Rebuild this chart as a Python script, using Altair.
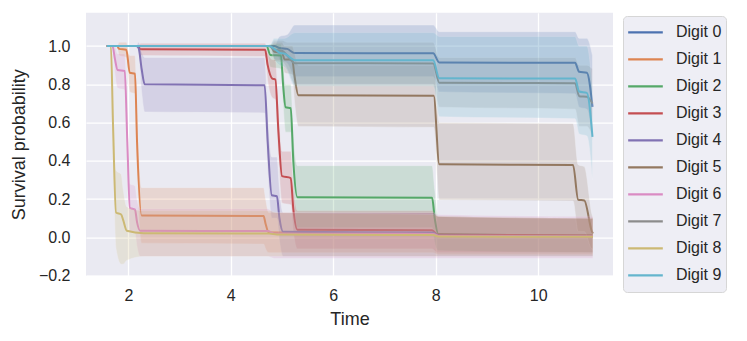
import altair as alt
import pandas as pd

digits = ["Digit 0", "Digit 1", "Digit 2", "Digit 3", "Digit 4",
          "Digit 5", "Digit 6", "Digit 7", "Digit 8", "Digit 9"]
colors = ["#4C72B0", "#DD8452", "#55A868", "#C44E52", "#8172B3",
          "#937860", "#DA8BC3", "#8C8C8C", "#CCB974", "#64B5CD"]

# Digit 0
t0 = [1.58, 4.85, 4.95, 5.10, 5.25, 7.95, 8.07, 10.72, 10.80, 10.95, 11.06]
v0 = [1.0, 1.0, 0.99, 0.985, 0.963, 0.962, 0.914, 0.912, 0.865, 0.86, 0.682]
lo0 = [1.0, 1.0, 0.93, 0.91, 0.84, 0.84, 0.76, 0.75, 0.68, 0.67, 0.50]
hi0 = [1.0, 1.0, 1.05, 1.06, 1.11, 1.11, 1.075, 1.075, 1.04, 1.04, 0.95]
# Digit 1
t1 = [1.58, 1.78, 1.82, 1.96, 2.03, 2.13, 2.17, 2.26, 4.64, 4.68, 4.74, 7.95, 8.05, 11.07]
v1 = [1.0, 1.0, 0.985, 0.98, 0.86, 0.855, 0.5, 0.115, 0.112, 0.07, 0.025, 0.022, 0.01, 0.005]
lo1 = [1.0, 1.0, 0.95, 0.94, 0.76, 0.75, 0.35, -0.03, -0.035, -0.06, -0.08, -0.08, -0.09, -0.09]
hi1 = [1.0, 1.0, 1.02, 1.02, 0.95, 0.95, 0.65, 0.26, 0.26, 0.2, 0.13, 0.13, 0.11, 0.1]
# Digit 2
t2 = [1.58, 4.70, 4.77, 4.98, 5.02, 5.07, 5.17, 5.22, 5.30, 7.93, 7.98, 8.05, 11.07]
v2 = [1.0, 1.0, 0.953, 0.95, 0.8, 0.68, 0.675, 0.4, 0.21, 0.207, 0.1, 0.018, 0.01]
lo2 = [1.0, 1.0, 0.89, 0.88, 0.7, 0.55, 0.55, 0.25, 0.05, 0.05, -0.03, -0.07, -0.08]
hi2 = [1.0, 1.0, 1.01, 1.01, 0.9, 0.8, 0.8, 0.55, 0.375, 0.375, 0.25, 0.11, 0.1]
# Digit 3
t3 = [1.58, 2.18, 2.24, 4.67, 4.72, 4.81, 4.87, 4.93, 5.00, 5.17, 5.22, 5.30, 7.93, 8.03, 11.07]
v3 = [1.0, 1.0, 0.983, 0.98, 0.9, 0.83, 0.825, 0.55, 0.32, 0.31, 0.15, 0.04, 0.038, 0.015, 0.01]
lo3 = [1.0, 1.0, 0.95, 0.945, 0.82, 0.73, 0.72, 0.42, 0.18, 0.17, 0.03, -0.06, -0.06, -0.08, -0.08]
hi3 = [1.0, 1.0, 1.015, 1.015, 0.97, 0.93, 0.93, 0.68, 0.45, 0.45, 0.28, 0.14, 0.14, 0.11, 0.1]
# Digit 4
t4 = [1.58, 2.15, 2.20, 2.26, 2.32, 4.66, 4.72, 4.80, 4.90, 4.95, 5.02, 7.95, 8.05, 11.07]
v4 = [1.0, 1.0, 0.99, 0.88, 0.8, 0.795, 0.5, 0.22, 0.215, 0.1, 0.03, 0.025, 0.01, 0.005]
lo4 = [1.0, 1.0, 0.96, 0.76, 0.655, 0.65, 0.35, 0.1, 0.1, -0.02, -0.1, -0.1, -0.1, -0.1]
hi4 = [1.0, 1.0, 1.02, 0.97, 0.94, 0.94, 0.65, 0.42, 0.42, 0.25, 0.13, 0.13, 0.11, 0.1]
# Digit 5
t5 = [1.58, 4.78, 4.85, 5.00, 5.05, 5.20, 5.24, 5.32, 7.96, 8.07, 10.68, 10.78, 10.90, 11.05, 11.07]
v5 = [1.0, 1.0, 0.97, 0.965, 0.93, 0.928, 0.85, 0.743, 0.74, 0.382, 0.378, 0.197, 0.193, 0.03, 0.02]
lo5 = [1.0, 1.0, 0.92, 0.915, 0.86, 0.85, 0.72, 0.58, 0.575, 0.195, 0.19, 0.03, 0.03, -0.06, -0.06]
hi5 = [1.0, 1.0, 1.02, 1.02, 1.0, 1.0, 0.97, 0.9, 0.9, 0.6, 0.595, 0.38, 0.37, 0.12, 0.1]
# Digit 6
t6 = [1.58, 1.69, 1.74, 1.79, 1.93, 1.98, 2.03, 2.13, 2.17, 2.23, 4.72, 4.85, 7.95, 8.05, 11.07]
v6 = [1.0, 1.0, 0.93, 0.875, 0.87, 0.5, 0.155, 0.145, 0.08, 0.035, 0.033, 0.02, 0.018, 0.008, 0.005]
lo6 = [1.0, 1.0, 0.85, 0.78, 0.77, 0.35, 0.03, 0.02, -0.05, -0.1, -0.1, -0.11, -0.11, -0.11, -0.11]
hi6 = [1.0, 1.0, 1.0, 0.96, 0.96, 0.65, 0.28, 0.27, 0.2, 0.15, 0.15, 0.13, 0.13, 0.12, 0.11]
# Digit 7
t7 = [1.58, 4.75, 4.85, 5.00, 5.10, 5.25, 7.95, 8.07, 10.72, 10.80, 10.95, 11.06]
v7 = [1.0, 1.0, 0.98, 0.975, 0.95, 0.91, 0.909, 0.808, 0.806, 0.738, 0.735, 0.70]
lo7 = [1.0, 1.0, 0.93, 0.92, 0.88, 0.8, 0.8, 0.68, 0.67, 0.58, 0.58, 0.52]
hi7 = [1.0, 1.0, 1.03, 1.03, 1.02, 1.02, 1.02, 0.94, 0.94, 0.9, 0.9, 0.88]
# Digit 8
t8 = [1.58, 1.66, 1.70, 1.76, 1.86, 1.90, 1.97, 2.30, 4.75, 4.90, 7.95, 8.05, 11.07]
v8 = [1.0, 1.0, 0.6, 0.13, 0.12, 0.09, 0.035, 0.022, 0.02, 0.015, 0.012, 0.005, 0.003]
lo8 = [1.0, 1.0, 0.45, -0.06, -0.14, -0.14, -0.12, -0.1, -0.1, -0.1, -0.1, -0.1, -0.1]
hi8 = [1.0, 1.0, 0.75, 0.35, 0.33, 0.25, 0.16, 0.14, 0.14, 0.13, 0.12, 0.11, 0.1]
# Digit 9
t9 = [1.58, 4.75, 4.85, 4.95, 5.05, 5.25, 7.95, 8.07, 10.72, 10.80, 10.95, 11.06]
v9 = [1.0, 1.0, 0.985, 0.965, 0.96, 0.926, 0.925, 0.831, 0.83, 0.762, 0.755, 0.525]
lo9 = [1.0, 1.0, 0.93, 0.9, 0.89, 0.79, 0.79, 0.63, 0.62, 0.54, 0.53, 0.3]
hi9 = [1.0, 1.0, 1.04, 1.04, 1.04, 1.07, 1.07, 1.05, 1.05, 1.0, 1.0, 0.78]

series = [(t0, v0, lo0, hi0), (t1, v1, lo1, hi1), (t2, v2, lo2, hi2), (t3, v3, lo3, hi3),
          (t4, v4, lo4, hi4), (t5, v5, lo5, hi5), (t6, v6, lo6, hi6), (t7, v7, lo7, hi7),
          (t8, v8, lo8, hi8), (t9, v9, lo9, hi9)]

rows = []
for name, (ts, vs, los, his) in zip(digits, series):
    for t, v, lo, hi in zip(ts, vs, los, his):
        rows.append({"digit": name, "t": t, "v": v, "lo": lo, "hi": hi})
df = pd.DataFrame(rows)

x_scale = alt.Scale(domain=[1.174, 11.46], nice=False, zero=False)
y_scale = alt.Scale(domain=[-0.2, 1.174], nice=False, zero=False)
x_axis = alt.Axis(values=[2, 4, 6, 8, 10], format="d", title="Time")
y_axis = alt.Axis(values=[-0.2, 0.0, 0.2, 0.4, 0.6, 0.8, 1.0], format=".1f",
                  title="Survival probability")
color_scale = alt.Scale(domain=digits, range=colors)

base = alt.Chart(df)
layers = []
for name, col in zip(digits, colors):
    band = base.transform_filter(alt.datum.digit == name).mark_area(
        interpolate="monotone", opacity=0.2, color=col,
        stroke="white", strokeWidth=1, strokeOpacity=0.45
    ).encode(
        x=alt.X("t:Q", scale=x_scale, axis=x_axis),
        y=alt.Y("lo:Q", scale=y_scale, axis=y_axis),
        y2="hi:Q",
    )
    line = base.transform_filter(alt.datum.digit == name).mark_line(
        interpolate="monotone", strokeWidth=2.0
    ).encode(
        x=alt.X("t:Q", scale=x_scale, axis=x_axis),
        y=alt.Y("v:Q", scale=y_scale, axis=y_axis),
        color=alt.Color("digit:N", scale=color_scale, legend=alt.Legend(
            title=None, orient="none", legendX=537, legendY=3.3,
            symbolType="stroke", symbolSize=1200, symbolStrokeWidth=2.2,
            clipHeight=24.7, padding=4, labelOffset=12,
            labelFont="Liberation Sans", labelFontSize=16, labelColor="#262626",
            fillColor="#EEEEF5", strokeColor="#D6D6D6", cornerRadius=4,
        )),
        order="t:Q",
    )
    layers += [band, line]

chart = alt.layer(*layers).properties(
    width=527, height=263,
    autosize=alt.AutoSizeParams(type="none"),
    padding={"left": 78, "top": 4.7, "right": 126, "bottom": 58},
).configure_view(
    fill="#EAEAF2", stroke=None
).configure_axis(
    grid=True, gridColor="white", gridWidth=1.3, domain=False, ticks=False,
    labelFont="Liberation Sans", labelFontSize=16, labelColor="#262626",
    titleFont="Liberation Sans", titleFontSize=18, titleColor="#262626",
    titleFontWeight="normal",
).configure_axisX(
    labelPadding=12, titlePadding=7
).configure_axisY(
    labelPadding=16, titlePadding=10
)

chart.save("out.html", embed_options={"renderer": "svg", "actions": False})
